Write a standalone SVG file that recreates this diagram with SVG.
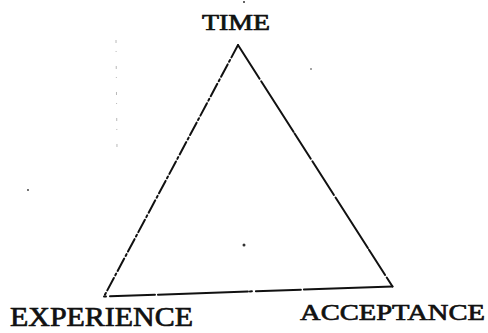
<svg xmlns="http://www.w3.org/2000/svg" width="488" height="333" viewBox="0 0 488 333">
<style>
.lbl{font-family:"Liberation Serif","Times New Roman",serif;fill:#111;stroke:#111;stroke-width:0.7;}
.edge{stroke:#111;stroke-width:2;fill:none;stroke-linecap:round;}
.noise{fill:#333;}
</style>
<rect width="488" height="333" fill="#fff"/>
<g id="connectors">
<line class="edge" x1="238" y1="45" x2="104" y2="296.5" stroke-dasharray="14 3 2 3"/>
<line class="edge" x1="238" y1="45" x2="392.5" y2="286.5" stroke-dasharray="40 3 60 2 30 3"/>
<line class="edge" x1="104" y1="296.5" x2="392.5" y2="286.5" stroke-dasharray="2 4 45 3 90 2"/>
</g>
<g id="node-time"><text class="lbl" x="202" y="30" font-size="23" textLength="68" lengthAdjust="spacingAndGlyphs">TIME</text></g>
<g id="node-experience"><text class="lbl" x="10" y="326" font-size="27" textLength="183" lengthAdjust="spacingAndGlyphs">EXPERIENCE</text></g>
<g id="node-acceptance"><text class="lbl" x="300" y="320" font-size="24" textLength="185" lengthAdjust="spacingAndGlyphs">ACCEPTANCE</text></g>
<g id="marks">
<circle class="noise" cx="244" cy="245" r="1.5"/>
<circle class="noise" cx="311" cy="69" r="0.8"/>
<circle class="noise" cx="244" cy="2" r="1"/>
<circle class="noise" cx="28" cy="190" r="0.9"/>
<line x1="116" y1="40" x2="117" y2="150" stroke="#999" stroke-width="0.7" stroke-dasharray="3 8 1 14"/>
</g>
</svg>
